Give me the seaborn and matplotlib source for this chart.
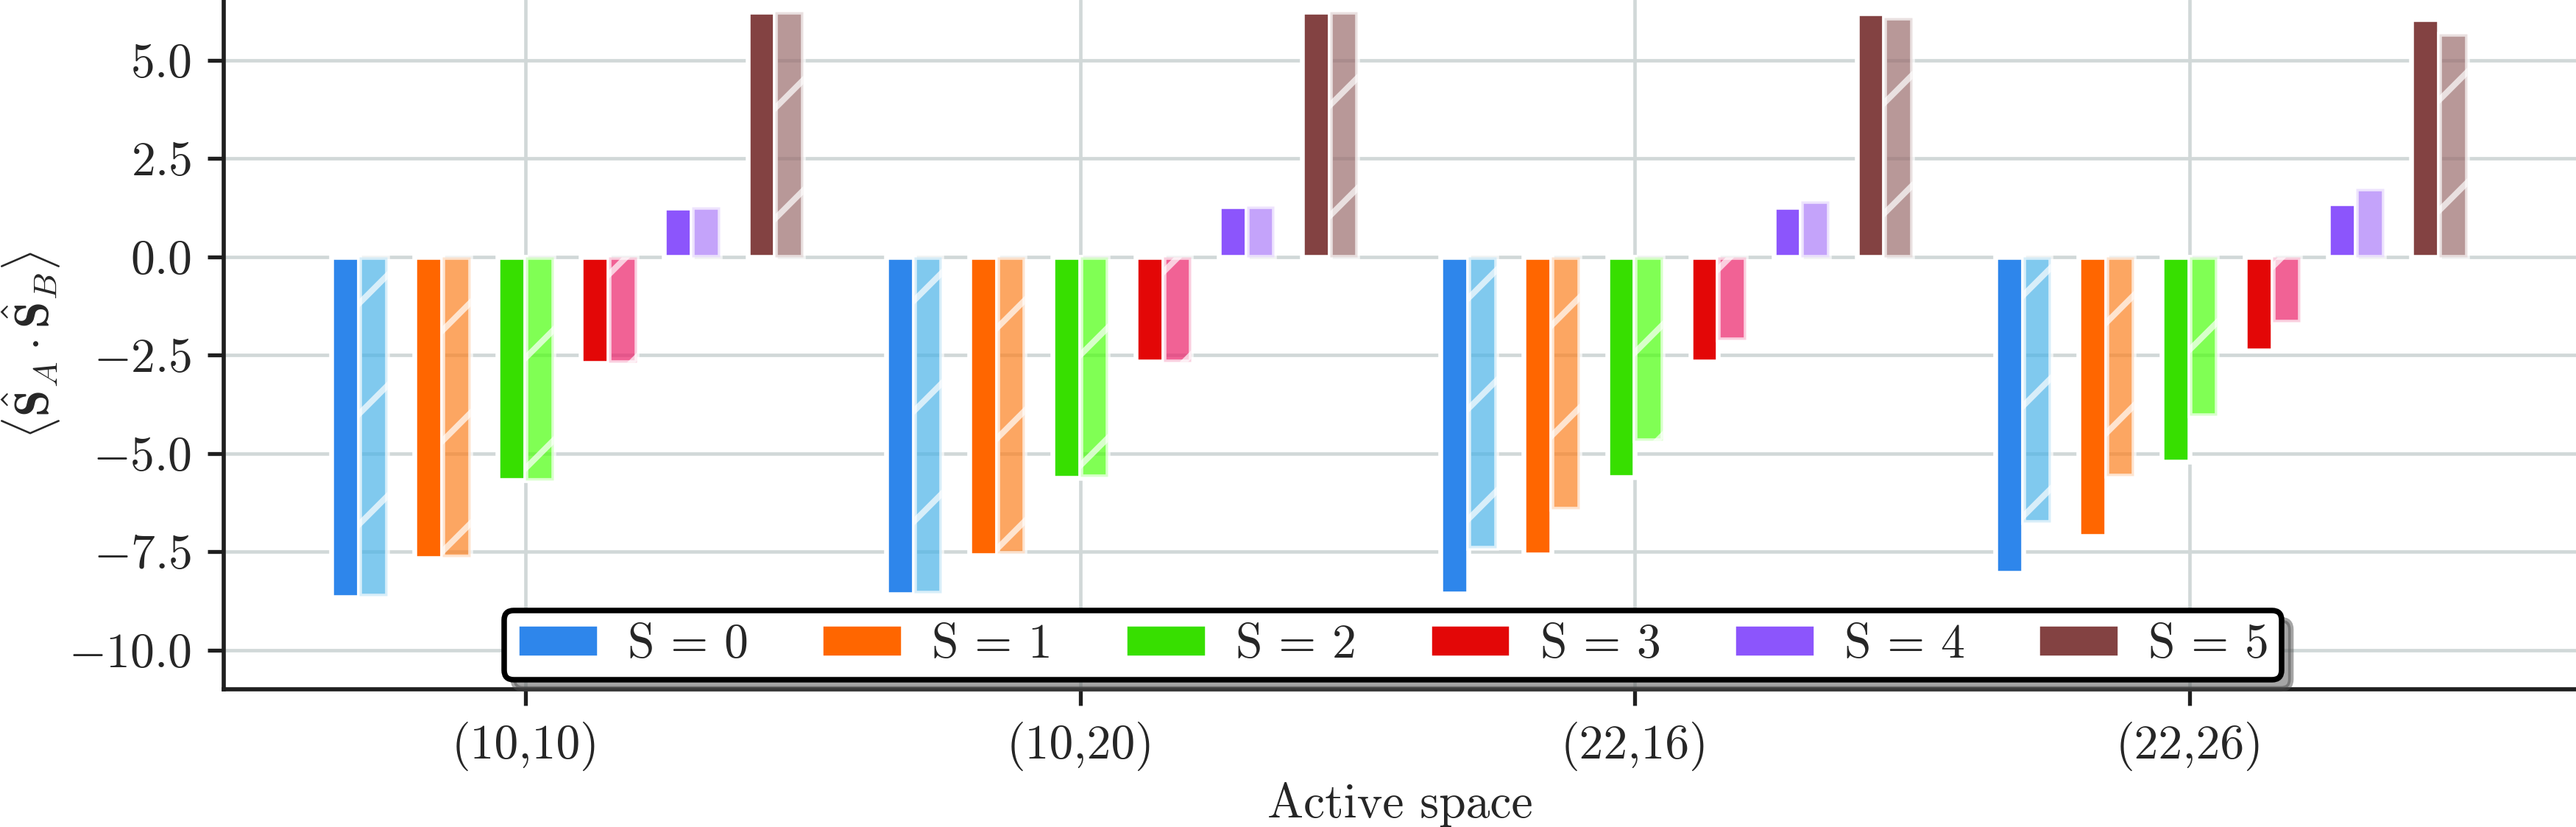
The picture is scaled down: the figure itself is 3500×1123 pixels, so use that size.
import numpy as np
import pandas as pd
import seaborn as sns
import matplotlib.pyplot as plt
from matplotlib.patches import Patch
from matplotlib.colors import to_rgb
from matplotlib.ticker import FuncFormatter

# active spaces on the x axis and the spin states in every group
spaces = ["(10,10)", "(10,20)", "(22,16)", "(22,26)"]
spins = [0, 1, 2, 3, 4, 5]

# <S_A . S_B> for S = 0..5, one row per active space
solid_vals = [
    [-8.66, -7.67, -5.69, -2.71, 1.25, 6.23],
    [-8.59, -7.60, -5.62, -2.66, 1.28, 6.23],
    [-8.56, -7.58, -5.60, -2.66, 1.27, 6.20],
    [-8.04, -7.10, -5.21, -2.38, 1.36, 6.04],
]
hatched_vals = [
    [-8.63, -7.63, -5.68, -2.69, 1.26, 6.23],
    [-8.54, -7.54, -5.59, -2.66, 1.28, 6.23],
    [-7.41, -6.41, -4.67, -2.10, 1.42, 6.08],
    [-6.74, -5.57, -4.04, -1.66, 1.73, 5.67],
]

solid_colors = ["#2e86eb", "#ff6600", "#37df00", "#e30707", "#8c55fc", "#834242"]
hatched_colors = ["#4ab3e7", "#fc801f", "#4aff0c", "#ec1f69", "#ab7cf8", "#9a6c6d"]

# long table for seaborn
rows = []
for i, sp in enumerate(spaces):
    for k, s in enumerate(spins):
        rows.append({"space": sp, "slot": f"solid{s}", "value": solid_vals[i][k]})
        rows.append({"space": sp, "slot": f"hatch{s}", "value": hatched_vals[i][k]})
df = pd.DataFrame(rows)

# hue slots: empty slots keep pairs apart (and shift them like the original)
hue_order = ["gap_a", "gap_b", "gap_c"]
for s in spins:
    hue_order += [f"solid{s}", f"hatch{s}"]
    if s != spins[-1]:
        hue_order.append(f"gap{s}")
palette = {h: "white" for h in hue_order}
for s, c1, c2 in zip(spins, solid_colors, hatched_colors):
    palette[f"solid{s}"] = c1
    palette[f"hatch{s}"] = c2

sns.set_theme(style="ticks")
plt.rcParams.update({
    "font.family": "cmr10",
    "mathtext.fontset": "cm",
    "axes.unicode_minus": False,
    "font.size": 10.5,
    "hatch.color": "white",
    "hatch.linewidth": 1.3,
})

dpi = 450
fig = plt.figure(figsize=(3500 / dpi, 1123 / dpi), dpi=dpi)
ax = fig.add_axes([0.0869, 0.1665, 0.9131, 0.8335])

sns.barplot(data=df, x="space", y="value", hue="slot", order=spaces,
            hue_order=hue_order, palette=palette, width=1.0, saturation=1,
            errorbar=None, edgecolor="white", linewidth=1.05, legend=False, ax=ax)

# second set of bars: lighter, transparent, hatched
hatch_rgb = [np.array(to_rgb(c)) for c in hatched_colors]
for bar in ax.patches:
    fc = np.array(bar.get_facecolor()[:3])
    if any(np.allclose(fc, h, atol=1e-3) for h in hatch_rgb):
        bar.set_hatch("/")
        bar.set_alpha(0.7)

ax.set_xlim(-0.544, 3.697)
ax.set_ylim(-11.0, 6.53)
ax.set_yticks([-10, -7.5, -5, -2.5, 0, 2.5, 5])
ax.yaxis.set_major_formatter(FuncFormatter(lambda v, _: f"${v:.1f}$"))

ax.grid(True, color="#d1d8d8", linewidth=0.75)
ax.set_axisbelow(True)
sns.despine(ax=ax)
for side in ["left", "bottom"]:
    ax.spines[side].set_color(".12")
    ax.spines[side].set_linewidth(0.9)
ax.tick_params(axis="both", direction="out", length=3.5, width=0.85,
               color=".12", labelsize=10.5, pad=3.5)

ax.set_xlabel("Active space", fontsize=10.5, labelpad=2.5)
ax.set_ylabel(r"$\langle \hat{\mathbf{S}}_A \cdot \hat{\mathbf{S}}_B \rangle$",
              fontsize=10.5, labelpad=1.5)

handles = [Patch(facecolor=c, edgecolor="white", linewidth=1.05,
                 label=f"S = {s}")
           for s, c in zip(spins, solid_colors)]
leg = ax.legend(handles=handles, loc="lower center", ncol=6, fontsize=10.5,
                bbox_to_anchor=(0.497, 0.0), frameon=True, fancybox=True,
                shadow=True, framealpha=1, edgecolor="black",
                handlelength=1.7, handletextpad=0.6, columnspacing=1.5,
                borderpad=0.26, borderaxespad=0.2)
leg.get_frame().set_linewidth(1.2)

fig.savefig("out.png", dpi=dpi)
